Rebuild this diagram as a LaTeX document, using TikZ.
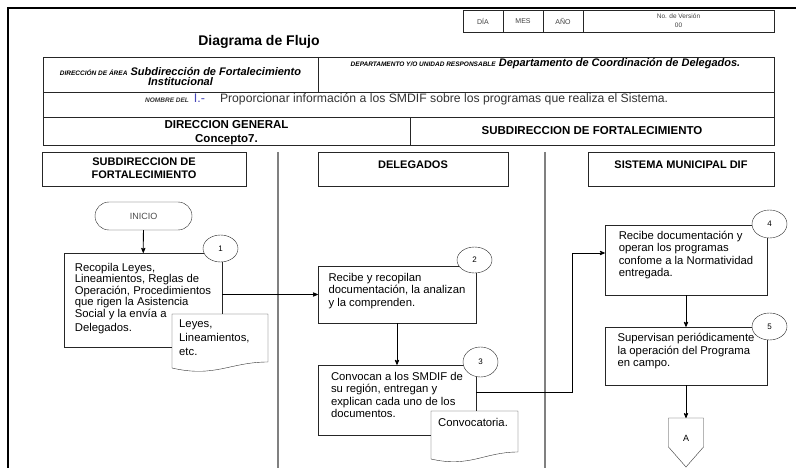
\documentclass[tikz,border=0pt]{standalone}
\usepackage{fontspec}
\setmainfont{Liberation Sans}
\usetikzlibrary{arrows,positioning,shapes.geometric}
\tikzset{
    %Punta de flecha
    >=stealth',
    %Cajas de proceso
    caja/.style={
           rectangle,
           draw=black!85,
           fill=white,
           inner sep=2pt,
           align=left,
           font=\fontsize{11.3}{12.5}\selectfont,
           text depth=10pt},
    %Numero de actividad
    num/.style={
           ellipse,
           draw=black!85,
           fill=white,
           inner sep=0pt,
           minimum width=35pt,
           minimum height=28pt,
           font=\fontsize{8}{8}\selectfont},
    %Encabezado de carril
    carril/.style={
           rectangle,
           draw=black!85,
           minimum height=34pt,
           align=center,
           font=\fontsize{11}{13}\selectfont\bfseries,
           text depth=9pt},
    %Documento
    docu/.style={
           draw=black!80,
           fill=white},
    doctexto/.style={
           align=left,
           inner sep=0pt,
           font=\fontsize{11.3}{14}\selectfont},
    %Celdas de fecha
    fecha/.style={
           rectangle,
           draw=black!85,
           minimum height=22pt,
           inner sep=0pt,
           outer sep=0pt,
           text=black!75,
           font=\fontsize{7}{9}\selectfont},
    %Conectores
    pil/.style={
           ->,
           draw=black,
           line width=0.8pt},
    linea/.style={
           draw=black!85,
           line width=0.8pt}
}

\begin{document}
\begin{tikzpicture}[x=1pt,y=-1pt]
  \useasboundingbox (0,0) rectangle (796,468);
  % marco
  \draw[line width=1.5pt] (8,468) -- (8,8) -- (796,8);
  % fecha y version
  \node[fecha,minimum width=40pt] (dia) at (483,21) {DÍA};
  \node[fecha,minimum width=40pt] (mes) at (523,21) {MES};
  \node[fecha,minimum width=40pt] (anio) at (563,21) {AÑO};
  \node[fecha,minimum width=191pt,font=\fontsize{6.5}{9}\selectfont,align=center] (version) at (678.5,21) {No. de Versión\\00};
  \node[font=\fontsize{14}{14}\selectfont\bfseries] (titulo) at (259,42) {Diagrama de Flujo};
  % tabla de encabezado
  \draw[linea] (43,57) rectangle (774,145);
  \draw[linea] (43,92) -- (774,92);
  \draw[linea] (43,117) -- (774,117);
  \draw[linea] (318,57) -- (318,92);
  \draw[linea] (410,117) -- (410,145);
  \node[anchor=north,align=center,font=\fontsize{11}{10}\selectfont\bfseries\itshape] (area) at (180.5,64)
    {{\fontsize{6.5}{6}\selectfont DIRECCIÓN DE ÁREA} Subdirección de Fortalecimiento\\Institucional};
  \node[font=\fontsize{11}{11}\selectfont\bfseries\itshape] (depto) at (545.5,64)
    {{\fontsize{6.5}{6}\selectfont DEPARTAMENTO Y/O UNIDAD RESPONSABLE} Departamento de Coordinación de Delegados.};
  \node[anchor=west,inner sep=0pt,text=black!80,font=\fontsize{12.2}{12}\selectfont] (nombre) at (145,99.5)
    {{\fontsize{6.5}{6}\selectfont\bfseries\itshape NOMBRE DEL}\hspace{5pt}{\color{blue!45!gray}\fontsize{12.5}{12}\selectfont I.-}\hspace{15pt}Proporcionar información a los SMDIF sobre los programas que realiza el Sistema.};
  \node[align=center,font=\fontsize{11.5}{14}\selectfont\bfseries] (direccion) at (226.5,133) {DIRECCION GENERAL\\Concepto7.};
  \node[font=\fontsize{11.5}{14}\selectfont\bfseries] (subdir) at (592,131) {SUBDIRECCION DE FORTALECIMIENTO};
  % carriles
  \draw[black!50,line width=1.6pt] (278,152) -- (278,468);
  \draw[black!50,line width=1.6pt] (545,152) -- (545,468);
  \node[carril,minimum width=204pt,text depth=2.5pt] (subfort) at (144,169) {SUBDIRECCION DE\\FORTALECIMIENTO};
  \node[carril,minimum width=190pt] (delegados) at (413,169) {DELEGADOS};
  \node[carril,minimum width=186pt] (sistema) at (681,169) {SISTEMA MUNICIPAL DIF};
  % actividades
  \node[rectangle,rounded corners=14pt,draw=black!85,minimum width=97pt,minimum height=28pt,text=black!70,font=\fontsize{9}{9}\selectfont] (inicio) at (143.5,216) {INICIO};
  \node[caja,minimum width=158pt,minimum height=94pt,text depth=5.5pt,font=\fontsize{11.3}{11.5}\selectfont] (caja1) at (143,300)
    {Recopila Leyes,\\Lineamientos, Reglas de\\Operación, Procedimientos\\que rigen la Asistencia\\Social y la envía a\\[3pt]Delegados.};
  \node[caja,minimum width=158pt,minimum height=57pt] (caja2) at (397,294.5)
    {Recibe y recopilan\\documentación, la analizan\\y la comprenden.};
  \node[caja,minimum width=158pt,minimum height=70pt] (caja3) at (397,400)
    {Convocan a los SMDIF de\\su región, entregan y\\explican cada uno de los\\documentos.};
  \node[caja,minimum width=162pt,minimum height=70pt,text depth=12pt] (caja4) at (686,260)
    {Recibe documentación y\\operan los programas\\confome a la Normatividad\\entregada.};
  \node[caja,minimum width=162pt,minimum height=58pt,text depth=12pt] (caja5) at (686,356)
    {Supervisan periódicamente\\la operación del Programa\\en campo.};
  \coordinate (codo) at (572,253);
  \coordinate (conA) at (686,418);
  % flujo
  \draw[pil] (inicio) -- (caja1);
  \draw[pil] (caja1.east |- caja2.west) -- (caja2.west);
  \draw[pil] (caja2) -- (caja3);
  \draw[pil] ([yshift=8pt]caja3.east) -| (codo) -- (codo -| caja4.west);
  \draw[pil] (caja4) -- (caja5);
  \draw[pil] (caja5) -- (conA);
  % documentos
  \filldraw[docu] (172,314) -- (268,314) -- (268,362) .. controls (230,362) and (215,378) .. (172,368) -- cycle;
  \node[doctexto,anchor=north west] (leyes) at (179,320) {Leyes,\\Lineamientos,\\etc.};
  \filldraw[docu] (431,411) -- (518,411) -- (518,452) .. controls (484,452) and (470,468) .. (431,459) -- cycle;
  \node[doctexto,anchor=north west] (convoc) at (438,418) {Convocatoria.};
  % conector fuera de pagina
  \filldraw[docu] (conA) ++(-17.5,0) -- ++(35,0) -- ++(0,29) -- ++(-17.5,20) -- ++(-17.5,-20) -- cycle;
  \node[font=\fontsize{9}{9}\selectfont] (letraA) at (686,438) {A};
  % numeros
  \node[num,minimum height=27pt] (n1) at (220.5,248.5) {1};
  \node[num,minimum height=26pt] (n2) at (474.5,260) {2};
  \node[num,minimum height=30pt] (n3) at (480.5,362) {3};
  \node[num] (n4) at (769.5,224) {4};
  \node[num,minimum height=27pt] (n5) at (769.5,326.5) {5};
\end{tikzpicture}
\end{document}
